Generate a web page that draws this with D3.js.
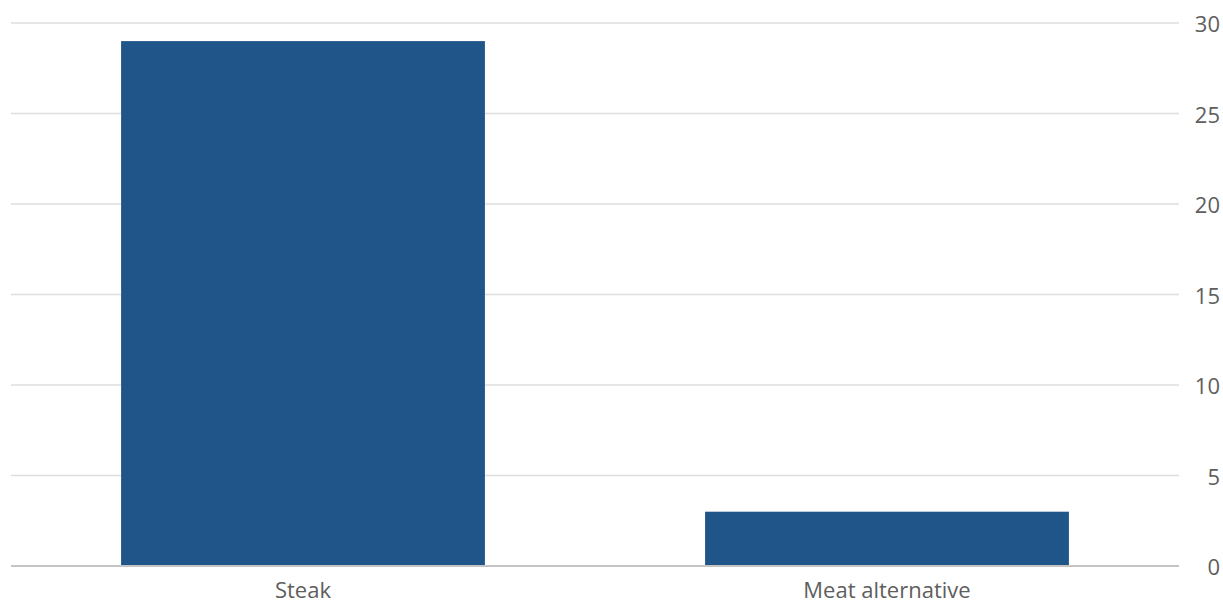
<!DOCTYPE html>
<html>
<head>
<meta charset="utf-8">
<script src="https://cdn.jsdelivr.net/npm/d3@7"></script>
<style>
  html, body { margin: 0; padding: 0; background: #fff; }
</style>
</head>
<body>
<div id="chart"></div>
<script>
const categories = ["Steak", "Meat alternative"];
const values = [29, 3];
const yTicks = [0, 5, 10, 15, 20, 25, 30];

const width = 1223;
const height = 605;
const plotLeft = 11, plotRight = 1179, plotTop = 23, plotBottom = 566;

const barColor = "#20558a";
const gridColor = "#dedede";
const axisColor = "#c4c4c4";
const textColor = "#5e5e5e";

const svg = d3.select("#chart")
  .append("svg")
  .attr("width", width)
  .attr("height", height)
  .style("font-family", "'Open Sans', Lato, sans-serif");

const x = d3.scaleBand()
  .domain(categories)
  .range([plotLeft, plotRight])
  .paddingInner(0.377)
  .paddingOuter(0.1885);

const y = d3.scaleLinear()
  .domain([0, 30])
  .range([plotBottom, plotTop]);

// gridlines
svg.append("g")
  .selectAll("line")
  .data(yTicks.filter(d => d !== 0))
  .join("line")
  .attr("x1", plotLeft)
  .attr("x2", plotRight)
  .attr("y1", d => y(d))
  .attr("y2", d => y(d))
  .attr("stroke", gridColor)
  .attr("stroke-width", 1.5);

// bars
svg.append("g")
  .selectAll("rect")
  .data(categories)
  .join("rect")
  .attr("x", d => x(d))
  .attr("y", (d, i) => y(values[i]))
  .attr("width", x.bandwidth())
  .attr("height", (d, i) => y(0) - y(values[i]))
  .attr("fill", barColor);

// baseline
svg.append("line")
  .attr("x1", plotLeft)
  .attr("x2", plotRight)
  .attr("y1", y(0))
  .attr("y2", y(0))
  .attr("stroke", axisColor)
  .attr("stroke-width", 2);

// y tick labels on the right
svg.append("g")
  .selectAll("text")
  .data(yTicks)
  .join("text")
  .attr("x", 1220)
  .attr("y", d => y(d))
  .attr("text-anchor", "end")
  .attr("dominant-baseline", "central")
  .attr("font-size", "22px")
  .attr("fill", textColor)
  .text(d => d);

// category labels
svg.append("g")
  .selectAll("text")
  .data(categories)
  .join("text")
  .attr("x", d => x(d) + x.bandwidth() / 2)
  .attr("y", 598)
  .attr("text-anchor", "middle")
  .attr("font-size", "22px")
  .attr("fill", textColor)
  .text(d => d);
</script>
</body>
</html>
